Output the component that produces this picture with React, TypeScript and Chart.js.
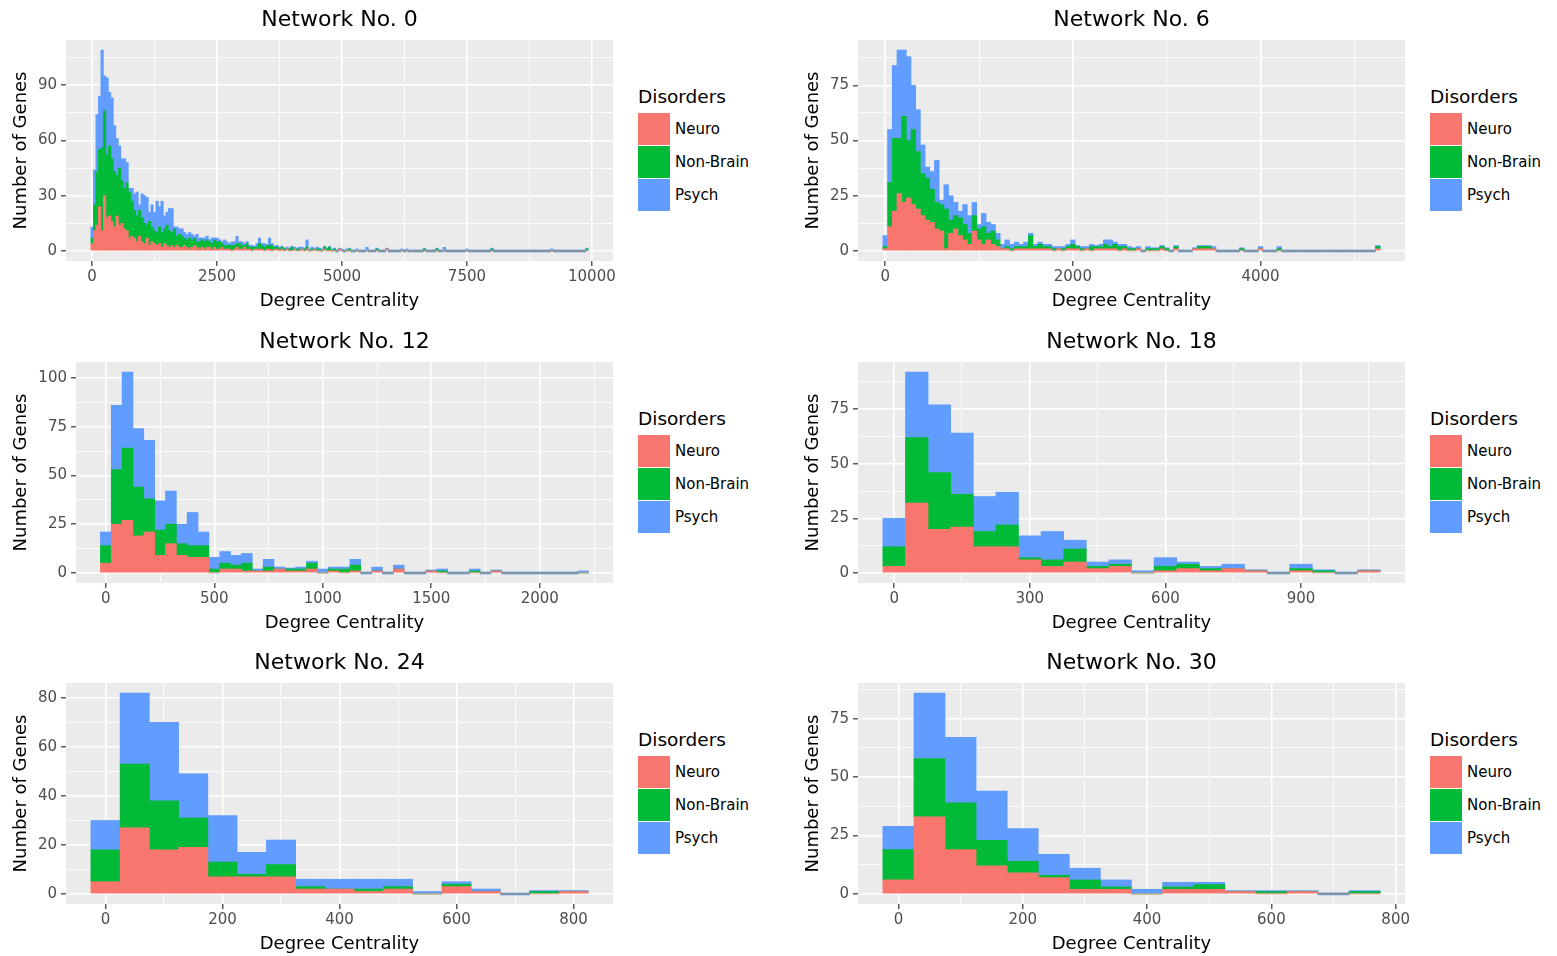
import React, { useEffect, useRef } from "react";
import { Chart, registerables } from "chart.js";

Chart.register(...registerables);

const FONT = "DejaVu Sans";
const BIN_WIDTH = 50;
const disorders = ["Neuro", "Non-Brain", "Psych"];
const disorderColors = ["#F8766D", "#00BA38", "#619CFF"];
const xTitle = "Degree Centrality";
const yTitle = "Number of Genes";
const legendTitle = "Disorders";

// ---------- Network No. 0 (bins of 50, centred at 0, 50, 100, ...) ----------
const net0Neuro = [
  4, 11, 14, 24, 11, 30, 18, 19, 16, 13, 19, 14, 15, 12, 11, 7, 8, 7, 5, 8,
  5, 4, 7, 3, 5, 4, 3, 4, 2, 4, 3, 2, 3, 2, 3, 2, 2, 3, 2, 1,
  2, 3, 2, 1, 2, 1, 2, 2, 1, 2, 1, 1, 2, 1, 1, 1, 0, 1, 2, 1,
  1, 2, 1, 1, 0, 1, 1, 1, 1, 0, 1, 1, 0, 1, 1, 0, 1, 0, 1, 0,
  0, 1, 0, 0, 1, 0, 1, 0, 0, 1, 0, 0, 0, 1, 0, 0, 0, 0, 0, 1,
  0, 0, 0, 0, 0, 0, 0, 0, 0, 0, 0, 0, 0, 0, 0, 0, 0, 0, 1, 0,
  0, 0, 0, 0, 0, 0, 0, 0, 0, 0, 0, 0, 0, 0, 0, 0, 0, 0, 0, 0,
  0, 0, 0, 0, 0, 0, 0, 0, 0, 0, 0, 0, 0, 0, 0, 0, 0, 0, 0, 0,
  0, 0, 0, 0, 0, 0, 0, 0, 0, 0, 0, 0, 0, 0, 0, 0, 0, 0, 0, 0,
  0, 0, 0, 0, 0, 0, 0, 0, 0, 0, 0, 0, 0, 0, 0, 0, 0, 0, 0,
];
const net0NonBrain = [
  3, 14, 29, 31, 45, 46, 34, 38, 34, 30, 22, 31, 23, 22, 26, 25, 19, 15, 14, 14,
  13, 11, 7, 13, 8, 7, 7, 9, 8, 8, 11, 9, 7, 10, 5, 7, 6, 4, 4, 6,
  4, 4, 3, 4, 4, 4, 4, 3, 3, 4, 4, 4, 2, 2, 2, 2, 3, 2, 2, 3,
  2, 1, 3, 1, 2, 1, 1, 3, 2, 2, 2, 2, 3, 1, 1, 1, 1, 1, 0, 1,
  2, 0, 1, 1, 0, 1, 1, 0, 1, 0, 1, 1, 0, 1, 1, 2, 0, 1, 0, 0,
  0, 0, 0, 1, 0, 0, 0, 0, 0, 0, 0, 0, 0, 0, 1, 0, 0, 0, 0, 0,
  0, 0, 0, 0, 0, 0, 0, 0, 0, 0, 0, 0, 0, 1, 0, 0, 0, 0, 1, 0,
  0, 0, 0, 0, 0, 0, 0, 0, 0, 0, 0, 0, 0, 0, 0, 0, 0, 0, 0, 0,
  1, 0, 0, 0, 0, 0, 0, 0, 0, 0, 0, 0, 0, 0, 0, 0, 0, 0, 0, 0,
  0, 0, 0, 0, 0, 0, 0, 0, 0, 0, 0, 0, 0, 0, 0, 0, 0, 0, 1,
];
const net0Psych = [
  6, 19, 31, 29, 53, 19, 42, 29, 33, 25, 20, 12, 12, 16, 11, 2, 7, 9, 13, 3,
  13, 15, 15, 5, 12, 10, 17, 11, 17, 7, 7, 12, 13, 1, 5, 3, 4, 3, 3, 3,
  3, 1, 4, 2, 1, 2, 2, 1, 3, 1, 2, 1, 1, 3, 2, 1, 2, 2, 4, 1,
  2, 1, 1, 1, 1, 0, 2, 3, 1, 2, 0, 4, 1, 0, 1, 1, 0, 0, 1, 0,
  0, 1, 0, 1, 1, 0, 4, 1, 1, 0, 1, 0, 1, 0, 0, 0, 1, 0, 0, 0,
  1, 0, 1, 0, 0, 0, 1, 0, 0, 0, 2, 0, 0, 0, 0, 0, 0, 0, 0, 0,
  0, 0, 0, 0, 1, 0, 1, 0, 0, 0, 0, 0, 0, 0, 0, 0, 0, 0, 0, 0,
  0, 2, 0, 0, 0, 0, 0, 0, 0, 0, 1, 0, 0, 0, 0, 0, 0, 0, 0, 0,
  0, 0, 0, 0, 0, 0, 0, 0, 0, 0, 0, 0, 0, 0, 0, 0, 0, 0, 0, 0,
  0, 0, 0, 0, 1, 0, 0, 0, 0, 0, 0, 0, 0, 0, 0, 0, 0, 0, 0,
];
const net0XTicks = [0, 2500, 5000, 7500, 10000];
const net0XLabels = ["0", "2500", "5000", "7500", "10000"];
const net0XMinor = [1250, 3750, 6250, 8750];
const net0YTicks = [0, 30, 60, 90];
const net0YLabels = ["0", "30", "60", "90"];
const net0YMinor = [15, 45, 75, 105];

// ---------- Network No. 6 ----------
const net6Neuro = [
  1, 11, 18, 26, 22, 24, 21, 19, 16, 14, 13, 10, 9, 1, 8, 10, 7, 5, 3, 9,
  5, 3, 5, 3, 2, 1, 1, 0, 1, 1, 1, 1, 1, 1, 1, 1, 0, 1, 0, 1,
  1, 1, 0, 1, 0, 1, 1, 1, 1, 1, 0, 1, 0, 0, 1, 0, 0, 0, 0, 1,
  0, 0, 1, 0, 0, 0, 1, 1, 1, 1, 1, 0, 0, 0, 0, 0, 0, 0, 0, 0,
  1, 0, 0, 0, 0, 0, 0, 0, 0, 0, 0, 0, 0, 0, 0, 0, 0, 0, 0, 0,
  0, 0, 0, 0, 0, 1,
];
const net6NonBrain = [
  1, 20, 33, 25, 39, 26, 34, 26, 19, 19, 15, 12, 12, 18, 6, 6, 8, 7, 5, 7,
  5, 8, 3, 6, 3, 0, 1, 1, 1, 1, 1, 6, 1, 2, 1, 1, 1, 0, 1, 1,
  2, 1, 1, 0, 2, 1, 1, 2, 1, 2, 2, 1, 1, 1, 0, 0, 1, 1, 1, 1,
  1, 0, 1, 0, 0, 0, 0, 1, 1, 1, 0, 0, 0, 0, 0, 0, 1, 0, 0, 0,
  0, 0, 0, 0, 1, 0, 0, 0, 0, 0, 0, 0, 0, 0, 0, 0, 0, 0, 0, 0,
  0, 0, 0, 0, 0, 1,
];
const net6Psych = [
  5, 24, 33, 40, 30, 38, 20, 19, 13, 5, 8, 19, 2, 11, 11, 6, 3, 9, 8, 6,
  2, 6, 5, 3, 3, 2, 3, 2, 2, 1, 2, 1, 1, 1, 1, 1, 1, 1, 1, 1,
  2, 0, 1, 1, 1, 0, 1, 2, 3, 1, 1, 1, 1, 0, 1, 0, 1, 0, 0, 0,
  0, 0, 0, 0, 0, 0, 0, 0, 0, 0, 1, 0, 0, 0, 0, 0, 0, 0, 0, 0,
  1, 0, 0, 0, 1, 0, 0, 0, 0, 0, 0, 0, 0, 0, 0, 0, 0, 0, 0, 0,
  0, 0, 0, 0, 0, 0,
];
const net6XTicks = [0, 2000, 4000];
const net6XLabels = ["0", "2000", "4000"];
const net6XMinor = [1000, 3000, 5000];
const net6YTicks = [0, 25, 50, 75];
const net6YLabels = ["0", "25", "50", "75"];
const net6YMinor = [12.5, 37.5, 62.5, 87.5];

// ---------- Network No. 12 ----------
const net12Neuro = [
  5, 25, 27, 19, 21, 9, 15, 9, 8, 8, 0, 2, 2, 1, 1, 1, 2, 1, 1, 2,
  0, 1, 0, 1, 0, 1, 0, 2, 0, 0, 1, 0, 0, 0, 0, 0, 1, 0, 0, 0,
  0, 0, 0, 0, 0,
];
const net12NonBrain = [
  9, 28, 37, 25, 17, 13, 10, 6, 6, 6, 2, 3, 2, 4, 0, 2, 0, 1, 1, 3,
  0, 1, 2, 3, 0, 0, 0, 0, 0, 0, 0, 1, 0, 0, 1, 0, 0, 0, 0, 0,
  0, 0, 0, 0, 0,
];
const net12Psych = [
  7, 33, 39, 30, 30, 15, 17, 10, 17, 7, 6, 6, 5, 5, 1, 4, 1, 0, 1, 1,
  2, 1, 1, 3, 0, 2, 0, 2, 0, 0, 0, 1, 0, 0, 1, 0, 0, 0, 0, 0,
  0, 0, 0, 0, 1,
];
const net12XTicks = [0, 500, 1000, 1500, 2000];
const net12XLabels = ["0", "500", "1000", "1500", "2000"];
const net12XMinor = [250, 750, 1250, 1750, 2250];
const net12YTicks = [0, 25, 50, 75, 100];
const net12YLabels = ["0", "25", "50", "75", "100"];
const net12YMinor = [12.5, 37.5, 62.5, 87.5];

// ---------- Network No. 18 ----------
const net18Neuro = [3, 32, 20, 21, 12, 12, 6, 3, 5, 2, 3, 0, 1, 2, 1, 2, 1, 0, 1, 0, 0, 1];
const net18NonBrain = [9, 30, 26, 15, 7, 10, 1, 3, 6, 1, 1, 0, 2, 2, 1, 0, 0, 0, 1, 1, 0, 0];
const net18Psych = [13, 30, 31, 28, 16, 15, 10, 13, 4, 2, 2, 1, 4, 1, 1, 2, 0, 0, 2, 0, 0, 0];
const net18XTicks = [0, 300, 600, 900];
const net18XLabels = ["0", "300", "600", "900"];
const net18XMinor = [150, 450, 750, 1050];
const net18YTicks = [0, 25, 50, 75];
const net18YLabels = ["0", "25", "50", "75"];
const net18YMinor = [12.5, 37.5, 62.5, 87.5];

// ---------- Network No. 24 ----------
const net24Neuro = [5, 27, 18, 19, 7, 7, 7, 2, 2, 1, 2, 0, 3, 1, 0, 0, 1];
const net24NonBrain = [13, 26, 20, 12, 6, 1, 5, 1, 0, 1, 1, 0, 1, 0, 0, 1, 0];
const net24Psych = [12, 29, 32, 18, 19, 9, 10, 3, 4, 4, 3, 1, 1, 1, 0, 0, 0];
const net24XTicks = [0, 200, 400, 600, 800];
const net24XLabels = ["0", "200", "400", "600", "800"];
const net24XMinor = [100, 300, 500, 700];
const net24YTicks = [0, 20, 40, 60, 80];
const net24YLabels = ["0", "20", "40", "60", "80"];
const net24YMinor = [10, 30, 50, 70];

// ---------- Network No. 30 ----------
const net30Neuro = [6, 33, 19, 12, 9, 7, 2, 2, 0, 2, 2, 1, 0, 1, 0, 0];
const net30NonBrain = [13, 25, 20, 11, 5, 1, 4, 1, 0, 1, 2, 0, 1, 0, 0, 1];
const net30Psych = [10, 28, 28, 21, 14, 9, 5, 3, 2, 2, 1, 0, 0, 0, 0, 0];
const net30XTicks = [0, 200, 400, 600, 800];
const net30XLabels = ["0", "200", "400", "600", "800"];
const net30XMinor = [100, 300, 500, 700];
const net30YTicks = [0, 25, 50, 75];
const net30YLabels = ["0", "25", "50", "75"];
const net30YMinor = [12.5, 37.5, 62.5, 87.5];

type PanelCfg = {
  title: string;
  series: number[][];
  xTicks: number[];
  xLabels: string[];
  xMinor: number[];
  yTicks: number[];
  yLabels: string[];
  yMinor: number[];
  left: number;
  top: number;
  gridLeft: number;
};

const panels: PanelCfg[] = [
  { title: "Network No. 0", series: [net0Neuro, net0NonBrain, net0Psych], xTicks: net0XTicks, xLabels: net0XLabels, xMinor: net0XMinor, yTicks: net0YTicks, yLabels: net0YLabels, yMinor: net0YMinor, left: 0, top: 0, gridLeft: 66 },
  { title: "Network No. 6", series: [net6Neuro, net6NonBrain, net6Psych], xTicks: net6XTicks, xLabels: net6XLabels, xMinor: net6XMinor, yTicks: net6YTicks, yLabels: net6YLabels, yMinor: net6YMinor, left: 792, top: 0, gridLeft: 66 },
  { title: "Network No. 12", series: [net12Neuro, net12NonBrain, net12Psych], xTicks: net12XTicks, xLabels: net12XLabels, xMinor: net12XMinor, yTicks: net12YTicks, yLabels: net12YLabels, yMinor: net12YMinor, left: 0, top: 322, gridLeft: 76 },
  { title: "Network No. 18", series: [net18Neuro, net18NonBrain, net18Psych], xTicks: net18XTicks, xLabels: net18XLabels, xMinor: net18XMinor, yTicks: net18YTicks, yLabels: net18YLabels, yMinor: net18YMinor, left: 792, top: 322, gridLeft: 66 },
  { title: "Network No. 24", series: [net24Neuro, net24NonBrain, net24Psych], xTicks: net24XTicks, xLabels: net24XLabels, xMinor: net24XMinor, yTicks: net24YTicks, yLabels: net24YLabels, yMinor: net24YMinor, left: 0, top: 643, gridLeft: 66 },
  { title: "Network No. 30", series: [net30Neuro, net30NonBrain, net30Psych], xTicks: net30XTicks, xLabels: net30XLabels, xMinor: net30XMinor, yTicks: net30YTicks, yLabels: net30YLabels, yMinor: net30YMinor, left: 792, top: 643, gridLeft: 66 },
];

const CANVAS_W = 625;
const CANVAS_H = 312;
const GRID_TOP = 40;
const GRID_BOTTOM = 261;

const panelBackground = {
  id: "panelBackground",
  beforeDraw(chart: any) {
    const { ctx, chartArea: a } = chart;
    ctx.save();
    ctx.fillStyle = "#EBEBEB";
    ctx.fillRect(a.left, a.top, a.right - a.left, a.bottom - a.top);
    ctx.restore();
  },
};

function axisConfig(major: number[], labels: string[], minor: number[], min: number, max: number) {
  const all = [...major, ...minor].filter((v) => v >= min && v <= max).sort((a, b) => a - b);
  const isMajor = (v: number) => major.includes(v);
  return {
    type: "linear" as const,
    stacked: true,
    min,
    max,
    offset: false,
    border: { display: false },
    afterBuildTicks: (axis: any) => {
      axis.ticks = all.map((v) => ({ value: v }));
    },
    grid: {
      offset: false,
      drawOnChartArea: true,
      drawTicks: true,
      tickLength: 5,
      color: "#FFFFFF",
      lineWidth: (ctx: any) => (ctx.tick && isMajor(ctx.tick.value) ? 1.6 : 0.8),
      tickColor: (ctx: any) => (ctx.tick && isMajor(ctx.tick.value) ? "#333333" : "rgba(0,0,0,0)"),
      tickWidth: 1.2,
    },
    ticks: {
      autoSkip: false,
      maxRotation: 0,
      minRotation: 0,
      color: "#4D4D4D",
      font: { family: FONT, size: 15 },
      callback: (value: number) => {
        const i = major.indexOf(value);
        return i >= 0 ? labels[i] : "";
      },
    },
  };
}

function Panel({ cfg }: { cfg: PanelCfg }) {
  const ref = useRef<HTMLCanvasElement>(null);
  useEffect(() => {
    if (!ref.current) return;
    const n = cfg.series[0].length;
    const centers = cfg.series[0].map((_, i) => i * BIN_WIDTH);
    const totals = centers.map((_, i) => cfg.series.reduce((s, arr) => s + arr[i], 0));
    const yMaxData = Math.max(...totals);
    const span = n * BIN_WIDTH;
    const xMin = -BIN_WIDTH / 2 - 0.05 * span;
    const xMax = (n - 1) * BIN_WIDTH + BIN_WIDTH / 2 + 0.05 * span;
    const yMin = -0.05 * yMaxData;
    const yMax = 1.05 * yMaxData;
    const last = cfg.series.length - 1;

    const datasets = cfg.series.map((vals, s) => ({
      label: disorders[s],
      data: vals.map((v, i) => ({ x: centers[i], y: v })),
      backgroundColor: disorderColors[s],
      borderWidth: 0,
      barPercentage: 1,
      categoryPercentage: 1,
      // ggplot draws empty bins as a hairline on top of the stack
      minBarLength: s === last ? 2 : 0,
      stack: "all",
    }));

    const xAxis: any = axisConfig(cfg.xTicks, cfg.xLabels, cfg.xMinor, xMin, xMax);
    xAxis.ticks.padding = 2;
    xAxis.title = {
      display: true,
      text: xTitle,
      color: "#000000",
      font: { family: FONT, size: 18 },
      padding: { top: 0, bottom: 0 },
    };
    xAxis.afterFit = (s: any) => {
      s.height = CANVAS_H - GRID_BOTTOM;
    };

    const yAxis: any = axisConfig(cfg.yTicks, cfg.yLabels, cfg.yMinor, yMin, yMax);
    yAxis.ticks.padding = 4;
    yAxis.title = {
      display: true,
      text: yTitle,
      color: "#000000",
      font: { family: FONT, size: 18 },
      padding: { top: 11, bottom: 0 },
    };
    yAxis.afterFit = (s: any) => {
      s.width = cfg.gridLeft;
    };

    const chart = new Chart(ref.current, {
      type: "bar",
      data: { datasets: datasets as any },
      options: {
        animation: false,
        responsive: false,
        maintainAspectRatio: false,
        devicePixelRatio: 1,
        layout: { padding: { left: 0, right: CANVAS_W - 613, top: 0, bottom: 0 } },
        plugins: {
          legend: { display: false },
          tooltip: { enabled: false },
          title: {
            display: true,
            text: cfg.title,
            fullSize: false,
            color: "#000000",
            font: { family: FONT, size: 22, weight: "normal" as any },
            padding: { top: 7, bottom: GRID_TOP - 7 - 26.4 },
          },
        },
        scales: { x: xAxis, y: yAxis },
      } as any,
      plugins: [panelBackground],
    });
    return () => chart.destroy();
  }, [cfg]);

  return (
    <canvas
      ref={ref}
      width={CANVAS_W}
      height={CANVAS_H}
      style={{ position: "absolute", left: cfg.left, top: cfg.top, width: CANVAS_W, height: CANVAS_H }}
    />
  );
}

function Legend({ left, top }: { left: number; top: number }) {
  return (
    <div style={{ position: "absolute", left, top, fontFamily: FONT, color: "#000" }}>
      <div style={{ position: "absolute", left: 0, top: 0, fontSize: 18.5, lineHeight: "22px", whiteSpace: "nowrap" }}>
        {legendTitle}
      </div>
      {disorders.map((d, i) => (
        <React.Fragment key={d}>
          <div
            style={{
              position: "absolute",
              left: 0,
              top: 27 + i * 33,
              width: 32,
              height: 32,
              background: disorderColors[i],
            }}
          />
          <div
            style={{
              position: "absolute",
              left: 37,
              top: 27 + i * 33,
              height: 32,
              lineHeight: "32px",
              fontSize: 15,
              whiteSpace: "nowrap",
            }}
          >
            {d}
          </div>
        </React.Fragment>
      ))}
    </div>
  );
}

export default function App() {
  return (
    <div
      style={{
        position: "fixed",
        left: 0,
        top: 0,
        width: 1557,
        height: 956,
        overflow: "hidden",
        background: "#FFFFFF",
      }}
    >
      {panels.map((p) => (
        <React.Fragment key={p.title}>
          <Panel cfg={p} />
          <Legend left={p.left + 638} top={p.top + 86} />
        </React.Fragment>
      ))}
    </div>
  );
}
